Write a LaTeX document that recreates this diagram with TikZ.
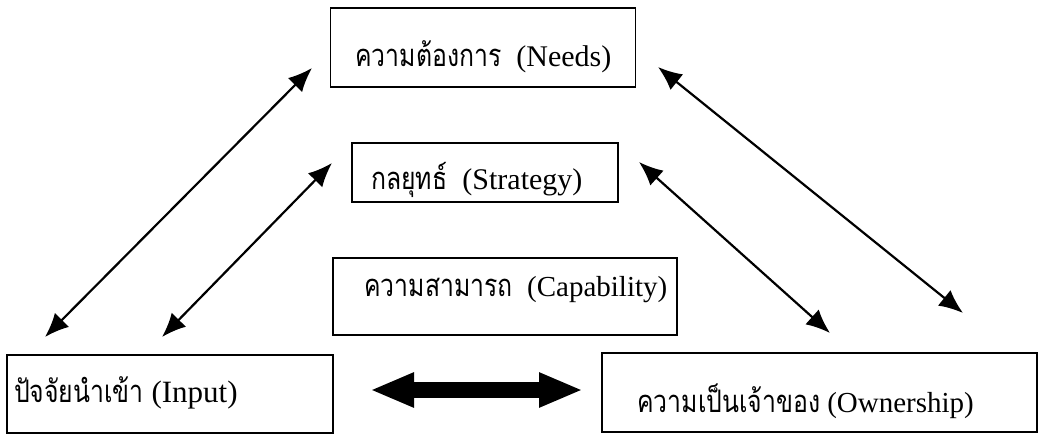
\documentclass[tikz,border=0pt]{standalone}
\usepackage{fontspec}
\setmainfont{Liberation Serif}
\newfontfamily\thaifont[Script=Thai,FakeStretch=0.8]{Loma}
\usetikzlibrary{arrows.meta}
\newcommand{\thtxt}[1]{{\fontsize{31}{34}\thaifont #1}}
\begin{document}
\begin{tikzpicture}[x=1pt,y=-1pt,
  box/.style={draw, line width=1.4pt, rectangle, inner sep=0pt},
  lbl/.style={anchor=base west, inner sep=0pt},
  link/.style={line width=2.2pt, {Latex[length=24pt,width=20pt]}-{Latex[length=24pt,width=20pt]}},
  fat/.style={line width=16pt, {Triangle[length=44pt,width=32pt]}-{Triangle[length=44pt,width=32pt]}}]
\fill[white] (0,0) rectangle (1040,435);
\useasboundingbox (0,0) rectangle (1040,435);
% boxes
\node[box, minimum width=305pt, minimum height=79pt] (needs) at (483,47.5) {};
\node[box, minimum width=266pt, minimum height=59pt] (strat) at (485,172.5) {};
\node[box, minimum width=344pt, minimum height=77pt] (capab) at (505,296.5) {};
\node[box, minimum width=326pt, minimum height=78pt] (input) at (170,394) {};
\node[box, minimum width=435pt, minimum height=79pt] (owner) at (819.5,392.5) {};
% labels
\node[lbl, font=\fontsize{30}{32}\selectfont] (tneeds) at (355,67) {\thtxt{ความต้องการ}\ \ (Needs)};
\node[lbl, font=\fontsize{30}{32}\selectfont] (tstrat) at (371,190) {\thtxt{กลยุทธ์}\ \ (Strategy)};
\node[lbl, font=\fontsize{29}{32}\selectfont] (tcapab) at (364,296) {\thtxt{ความสามารถ}\ \ (Capability)};
\node[lbl, font=\fontsize{31}{33}\selectfont] (tinput) at (14,402) {\thtxt{ปัจจัยนำเข้า} (Input)};
\node[lbl, font=\fontsize{29}{32}\selectfont] (towner) at (637,412) {\thtxt{ความเป็นเจ้าของ} (Ownership)};
% arrow end points
\coordinate (n1a) at (312,68);  \coordinate (n1b) at (45,337);
\coordinate (s1a) at (332,163); \coordinate (s1b) at (162,337);
\coordinate (n2a) at (658,67);  \coordinate (n2b) at (963,313);
\coordinate (s2a) at (639,162); \coordinate (s2b) at (830,333);
\coordinate (fl) at (370,390);  \coordinate (fr) at (583,390);
\draw[link] (n1a) -- (n1b);
\draw[link] (s1a) -- (s1b);
\draw[link] (n2a) -- (n2b);
\draw[link] (s2a) -- (s2b);
\draw[fat] (fl) -- (fr);
\end{tikzpicture}
\end{document}
